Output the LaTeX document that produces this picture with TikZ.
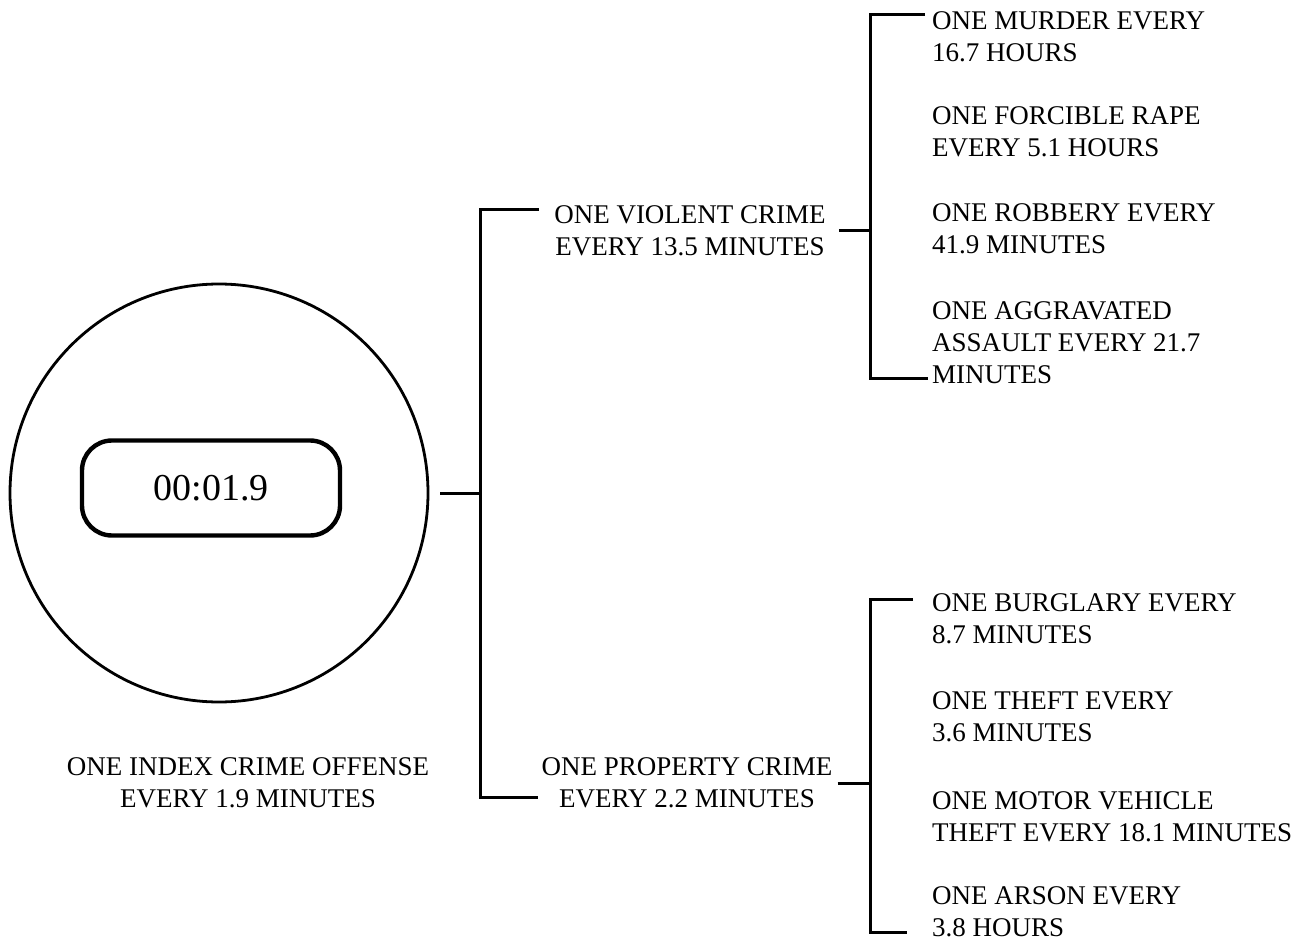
\documentclass[tikz,border=0pt]{standalone}
\usepackage{fontspec}
\setmainfont{Liberation Serif}
\begin{document}
\begin{tikzpicture}[x=1pt,y=-1pt,
  every node/.style={inner sep=0pt},
  lbl/.style={font=\fontsize{27}{32}\selectfont},
  leaf/.style={lbl,anchor=west,align=left},
  branch/.style={lbl,align=center},
  link/.style={line width=3pt}]
  \useasboundingbox (0,0) rectangle (1310,944);

  % clock face with the overall interval
  \node[circle,draw,line width=2.8pt,minimum size=418pt] (clock) at (219,493) {};
  \node[draw,line width=4.4pt,rounded corners=30pt,minimum width=258pt,minimum height=95pt,
    font=\fontsize{38}{40}\selectfont] (dial) at (211,488) {00:01.9};
  \node[branch] (total) at (248,783) {ONE INDEX CRIME OFFENSE\\EVERY 1.9 MINUTES};

  % first split: violent and property crime
  \node[branch] (violent) at (690,231) {ONE VIOLENT CRIME\\EVERY 13.5 MINUTES};
  \node[branch] (property) at (687,783) {ONE PROPERTY CRIME\\EVERY 2.2 MINUTES};
  \coordinate (top) at (480,210);
  \coordinate (bot) at (480,797);
  \draw[link] ([xshift=11pt]clock.east) -- (clock.east -| top);
  \draw[link] ([xshift=-15pt]violent.west |- top) -- (top) -- (bot)
    -- ([xshift=-3pt]property.west |- bot);

  % violent crimes
  \node[leaf] (murder) at (932,37) {ONE MURDER EVERY\\16.7 HOURS};
  \node[leaf] (rape) at (932,132) {ONE FORCIBLE RAPE\\EVERY 5.1 HOURS};
  \node[leaf] (robbery) at (932,229) {ONE ROBBERY EVERY\\41.9 MINUTES};
  \node[leaf] (assault) at (932,343) {ONE AGGRAVATED\\ASSAULT EVERY 21.7\\MINUTES};
  \coordinate (vtop) at (870,15);
  \coordinate (vbot) at (870,378);
  \draw[link] ([xshift=13pt]violent.east) -- (violent.east -| vtop);
  \draw[link] ([xshift=-7pt]murder.west |- vtop) -- (vtop) -- (vbot)
    -- ([xshift=-4pt]assault.west |- vbot);

  % property crimes
  \node[leaf] (burglary) at (932,619) {ONE BURGLARY EVERY\\8.7 MINUTES};
  \node[leaf] (theft) at (932,717) {ONE THEFT EVERY\\3.6 MINUTES};
  \node[leaf] (autotheft) at (932,817) {ONE MOTOR VEHICLE\\THEFT EVERY 18.1 MINUTES};
  \node[leaf] (arson) at (932,912) {ONE ARSON EVERY\\3.8 HOURS};
  \coordinate (ptop) at (870,599);
  \coordinate (pbot) at (870,932);
  \draw[link] ([xshift=5pt]property.east) -- (property.east -| ptop);
  \draw[link] ([xshift=-19pt]burglary.west |- ptop) -- (ptop) -- (pbot)
    -- ([xshift=-25pt]arson.west |- pbot);
\end{tikzpicture}
\end{document}
